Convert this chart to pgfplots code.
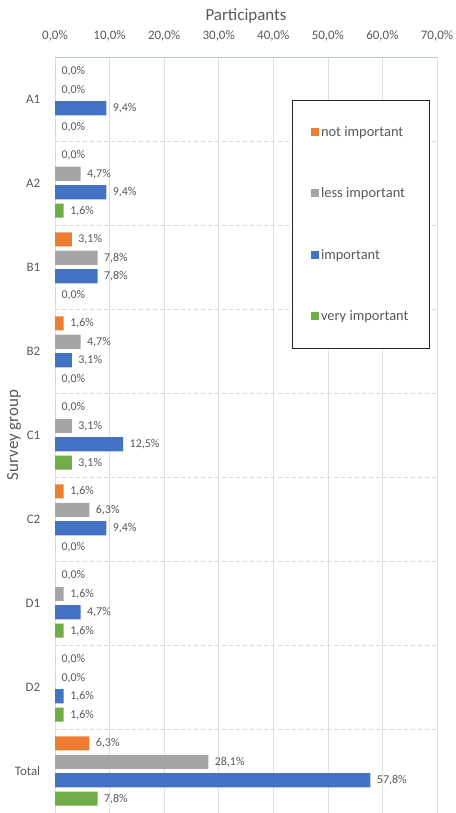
\documentclass[border=0pt]{standalone}
\usepackage{pgfplots}
\usepackage{pgfplotstable}
\pgfplotsset{compat=1.18}
\usepackage{fontspec}
\setmainfont{Carlito}
\definecolor{cnot}{HTML}{ED7D31}
\definecolor{cless}{HTML}{A5A5A5}
\definecolor{cimp}{HTML}{4472C4}
\definecolor{cvery}{HTML}{70AD47}
\definecolor{txt}{HTML}{595959}
\definecolor{topline}{HTML}{A9C8DA}
\pgfplotstableread{
g not less imp very
A1 0.0 0.0 9.4 0.0
A2 0.0 4.7 9.4 1.6
B1 3.1 7.8 7.8 0.0
B2 1.6 4.7 3.1 0.0
C1 0.0 3.1 12.5 3.1
C2 1.6 6.3 9.4 0.0
D1 0.0 1.6 4.7 1.6
D2 0.0 0.0 1.6 1.6
Total 6.3 28.1 57.8 7.8
}\datatable
\begin{document}
\begin{tikzpicture}
\begin{axis}[
  scale only axis,
  width=382bp, height=756bp,
  xmin=0, xmax=70,
  ymin=-0.5, ymax=8.5,
  y dir=reverse,
  xbar, bar shift=0pt, bar width=0.167,
  axis x line*=top, axis y line*=left,
  x axis line style={color=topline, line width=0.8pt, -},
  y axis line style={draw=none},
  tick style={draw=none},
  xtick={0,10,...,70},
  ytick={0,...,8},
  yticklabels={A1,A2,B1,B2,C1,C2,D1,D2,Total},
  /pgf/number format/assume math mode=true,
  xticklabel={\pgfmathprintnumber[fixed,fixed zerofill,precision=1,use comma]{\tick}\%},
  xticklabel style={font=\fontsize{13}{14}\selectfont, text=txt, yshift=12bp},
  yticklabel style={font=\fontsize{13}{14}\selectfont, text=txt, xshift=-7bp},
  xlabel={Participants},
  ylabel={Survey group},
  xlabel style={font=\fontsize{17}{19}\selectfont, text=txt, yshift=1bp},
  ylabel style={font=\fontsize{17}{19}\selectfont, text=txt, at={(axis description cs:-0.1073,0.5)}, anchor=center},
  xmajorgrids, major grid style={color=gray!25, line width=0.6pt},
  extra y ticks={0.5,1.5,...,7.5},
  extra y tick labels={},
  extra y tick style={grid=major, major grid style={color=gray!30, dashed, dash pattern=on 4pt off 3pt, line width=0.6pt}},
  nodes near coords={\pgfmathprintnumber[fixed,fixed zerofill,precision=1,use comma]{\pgfplotspointmeta}\%},
  point meta=x,
  every node near coord/.style={font=\fontsize{12}{13}\selectfont, text=txt, anchor=west, xshift=3bp},
  legend image code/.code={\fill[#1] (0bp,-4bp) rectangle (8bp,4bp);},
  legend cell align=left,
  legend style={at={(0.62,0.943)}, anchor=north west, draw=black!85, fill=white,
    font=\fontsize{14.5}{16}\selectfont, text=txt, row sep=46bp,
    inner xsep=19bp, inner ysep=24bp},
  clip=false,
]
\addplot[fill=cnot, draw=none] table[x=not, y expr=\coordindex-0.33]{\datatable};
\addlegendentry{not important}
\addplot[fill=cless, draw=none] table[x=less, y expr=\coordindex-0.11]{\datatable};
\addlegendentry{less important}
\addplot[fill=cimp, draw=none] table[x=imp, y expr=\coordindex+0.11]{\datatable};
\addlegendentry{important}
\addplot[fill=cvery, draw=none] table[x=very, y expr=\coordindex+0.33]{\datatable};
\addlegendentry{very important}
\coordinate (tl) at (axis description cs:0,1);
\coordinate (br) at (axis description cs:1,0);
\end{axis}
\pgfresetboundingbox
\path[use as bounding box] ([xshift=-55bp,yshift=57bp]tl) rectangle ([xshift=18bp]br);
\end{tikzpicture}
\end{document}
